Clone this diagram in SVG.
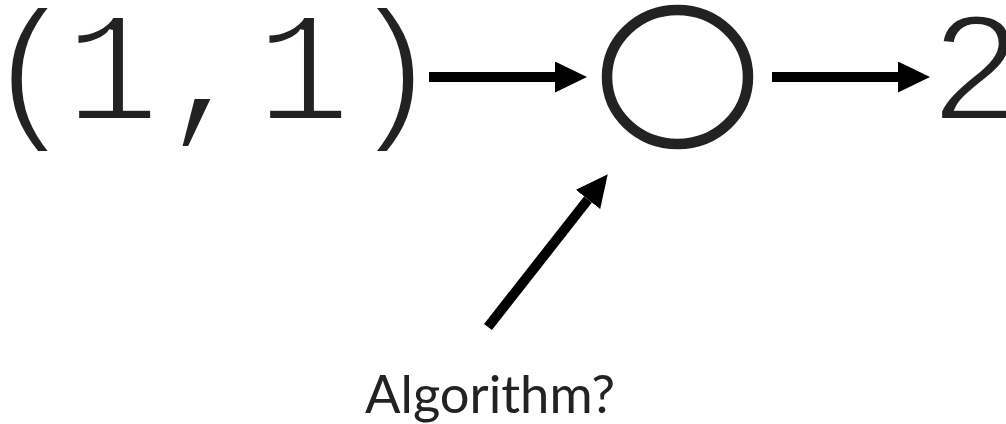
<svg xmlns="http://www.w3.org/2000/svg" width="1006" height="424" viewBox="0 0 1006 424">
<style>
.mono{font-family:"Liberation Mono","Courier New",monospace;font-size:158px;fill:#222;stroke:#fff;stroke-width:4px}
.lbl{font-family:Lato,"Open Sans",sans-serif;font-size:52.5px;fill:#222}
.edge{stroke:#000;stroke-width:10;fill:none}
</style>
<defs>
<marker id="ah" viewBox="0 0 32 31" markerWidth="32" markerHeight="31" markerUnits="userSpaceOnUse" refX="0" refY="15.5" orient="auto">
<path d="M0,0 L32,15.5 L0,31 Z" fill="#000"/>
</marker>
</defs>
<rect width="1006" height="424" fill="#fff"/>
<g id="input"><text class="mono" x="-17 65 160 256 347" y="120">(1,1)</text></g>
<g id="op"><ellipse cx="677.5" cy="77" rx="70.5" ry="67" fill="none" stroke="#222" stroke-width="10.5"/></g>
<g id="output"><text class="mono" x="929" y="120">2</text></g>
<g id="label"><text class="lbl" x="490" y="413" text-anchor="middle">Algorithm?</text></g>
<g id="connectors">
<line class="edge" x1="429" y1="77" x2="555" y2="77" marker-end="url(#ah)"/>
<line class="edge" x1="772" y1="77" x2="898" y2="77" marker-end="url(#ah)"/>
<line class="edge" x1="488" y1="327" x2="588" y2="199.5" marker-end="url(#ah)"/>
</g>
</svg>
